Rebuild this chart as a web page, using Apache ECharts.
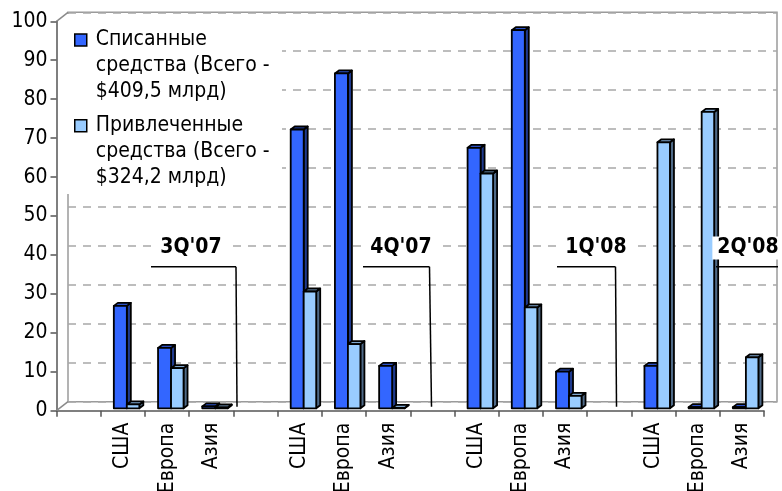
<!DOCTYPE html>
<html>
<head>
<meta charset="utf-8">
<script src="https://cdn.jsdelivr.net/npm/echarts@6/dist/echarts.min.js"></script>
<style>
  html, body { margin: 0; padding: 0; background: #fff; }
  #chart { width: 782px; height: 491px; }
</style>
</head>
<body>
<div id="chart"></div>
<script>
// Regions grouped by quarter; empty slots separate the quarters.
const categories = ['', 'США', 'Европа', 'Азия',
                    '', 'США', 'Европа', 'Азия',
                    '', 'США', 'Европа', 'Азия',
                    '', 'США', 'Европа', 'Азия'];

// Write-downs, $ bn
const writeDowns = [null, 26.3, 15.5, 0.5,
                    null, 71.6, 86.0, 10.9,
                    null, 66.9, 97.1, 9.4,
                    null, 10.9, 0.3, 0.3];

// Capital raised, $ bn
const capitalRaised = [null, 1.0, 10.3, 0.2,
                       null, 30.0, 16.5, 0.1,
                       null, 60.3, 25.9, 3.2,
                       null, 68.3, 76.1, 13.1];

const seriesNames = ['Списанные\nсредства (Всего -\n$409,5 млрд)',
                     'Привлеченные\nсредства (Всего -\n$324,2 млрд)'];

const quarterLabels = ["3Q'07", "4Q'07", "1Q'08", "2Q'08"];

const yTicks = { min: 0, max: 100, interval: 10 };

// ---- layout ----
const W = 782, H = 491;
const FONT = 'DejaVu Sans Condensed';
const FS = 21;
const front = { left: 56.5, right: 764, top: 21.3, bottom: 410.7 };
const DX = 11.5, DY = -9;          // depth of the back wall
const BAR_DY = -2.4;               // bars sit slightly behind the front plane
const SIDE_DX = 4, SIDE_DY = -3;   // visible bar depth

const palette = [
  { front: '#3366FF', top: '#2B50C6', side: '#1F3A8E' },
  { front: '#99CCFF', top: '#7FA6CE', side: '#4F6A88' }
];

function barRenderer(kind) {
  const x0off = kind === 0 ? -9 : 4;
  const x1off = kind === 0 ? 4 : 16.5;
  const col = palette[kind];
  return function (params, api) {
    const idx = api.value(0);
    const val = api.value(1);
    const base = api.coord([idx, 0]);
    const top = api.coord([idx, val]);
    const cx = base[0];
    const x0 = cx + x0off, x1 = cx + x1off;
    const yb = base[1] + BAR_DY, yt = top[1] + BAR_DY;
    const stroke = { stroke: '#000', lineWidth: 1.8, lineJoin: 'round' };
    return {
      type: 'group',
      children: [
        { type: 'polygon', shape: { points: [[x1, yt], [x1 + SIDE_DX, yt + SIDE_DY], [x1 + SIDE_DX, yb + SIDE_DY], [x1, yb]] },
          style: Object.assign({ fill: col.side }, stroke) },
        { type: 'polygon', shape: { points: [[x0, yt], [x1, yt], [x1 + SIDE_DX, yt + SIDE_DY], [x0 + SIDE_DX, yt + SIDE_DY]] },
          style: Object.assign({ fill: col.top }, stroke) },
        { type: 'rect', shape: { x: x0, y: yt, width: x1 - x0, height: yb - yt },
          style: Object.assign({ fill: col.front }, stroke) }
      ]
    };
  };
}

function toData(arr) {
  return arr.map((v, i) => (v == null ? null : [i, v]));
}

// Quarter callouts: label box plus leader line down to the floor
function callout(label, cxText, hx0, hx1, vx1, withDrop) {
  const yH = 266.7, yFloor = 406.7;
  const els = [
    { type: 'text', z: 20, style: { text: label, x: cxText, y: 248, align: 'center', verticalAlign: 'middle',
        font: 'bold ' + FS + 'px "' + FONT + '"', fill: '#000', backgroundColor: '#fff', padding: [1, 5] } },
    { type: 'line', z: 20, shape: { x1: hx0, y1: yH, x2: hx1, y2: yH }, style: { stroke: '#000', lineWidth: 1.5 } }
  ];
  if (withDrop) {
    els.push({ type: 'line', z: 20, shape: { x1: hx1, y1: yH, x2: vx1, y2: yFloor }, style: { stroke: '#000', lineWidth: 1.5 } });
  }
  return els;
}

const frameLine = { stroke: '#8a8a8a', lineWidth: 1.5 };

const option = {
  animation: false,
  backgroundColor: '#fff',
  textStyle: { fontFamily: FONT },
  grid: [
    { left: front.left, right: W - front.right, top: front.top, bottom: H - front.bottom,
      outerBoundsMode: 'none', containLabel: false },
    { left: front.left + DX, right: W - front.right - DX - 1.5, top: front.top + DY, bottom: H - front.bottom - DY,
      outerBoundsMode: 'none', containLabel: false,
      show: true, borderColor: '#9a9a9a', borderWidth: 1.5, backgroundColor: 'transparent' }
  ],
  xAxis: [
    { type: 'category', gridIndex: 0, data: categories, boundaryGap: true,
      axisLine: { lineStyle: { color: '#555', width: 1.5 } },
      axisTick: { show: true, length: 6, lineStyle: { color: '#555', width: 1.5 } },
      axisLabel: { interval: 0, rotate: 90, margin: 12, color: '#000', fontSize: FS, fontFamily: FONT } },
    { type: 'category', gridIndex: 1, data: categories, show: false }
  ],
  yAxis: [
    { type: 'value', gridIndex: 0, min: yTicks.min, max: yTicks.max, interval: yTicks.interval,
      axisLine: { show: true, lineStyle: { color: '#555', width: 1.5 } },
      axisTick: { show: true, length: 6, lineStyle: { color: '#555', width: 1.5 } },
      splitLine: { show: false },
      axisLabel: { margin: 9, color: '#000', fontSize: FS, fontFamily: FONT } },
    { type: 'value', gridIndex: 1, min: yTicks.min, max: yTicks.max, interval: yTicks.interval,
      axisLine: { show: false }, axisTick: { show: false }, axisLabel: { show: false },
      splitLine: { show: true, lineStyle: { color: '#a8a8a8', width: 1.5, type: [8, 7] } } }
  ],
  legend: {
    orient: 'vertical', left: 74, top: -25, padding: 0, itemGap: -44.3,
    itemWidth: 12, itemHeight: 12, icon: 'rect', selectedMode: false,
    data: [
      { name: seriesNames[0], itemStyle: { color: palette[0].front, borderColor: '#000', borderWidth: 1.5 } },
      { name: seriesNames[1], itemStyle: { color: palette[1].front, borderColor: '#000', borderWidth: 1.5 } }
    ],
    // two blank lines on top so the first text line lines up with the swatch
    formatter: name => ' \n \n' + name,
    textStyle: { fontFamily: FONT, fontSize: FS, lineHeight: 26, color: '#000', padding: [0, 0, 0, 4] }
  },
  graphic: [
    // legend panel hides the back wall behind it
    { type: 'rect', z: 1, shape: { x: 60, y: 14, width: 222, height: 180 }, style: { fill: '#fff' } },
    // side wall edges
    { type: 'line', z: 2, shape: { x1: front.left, y1: front.top, x2: front.left + DX, y2: front.top + DY }, style: frameLine },
    { type: 'line', z: 2, shape: { x1: front.left, y1: front.bottom, x2: front.left + DX, y2: front.bottom + DY }, style: frameLine },
    ...callout(quarterLabels[0], 191, 151, 236, 237, true),
    ...callout(quarterLabels[1], 401, 363, 429.5, 431.5, true),
    ...callout(quarterLabels[2], 596, 557, 615.5, 616.5, true),
    ...callout(quarterLabels[3], 748, 716, 778, 778, false)
  ],
  series: [
    { name: seriesNames[0], type: 'custom', xAxisIndex: 0, yAxisIndex: 0, z: 3,
      itemStyle: { color: palette[0].front },
      renderItem: barRenderer(0), encode: { x: 0, y: 1 }, data: toData(writeDowns) },
    { name: seriesNames[1], type: 'custom', xAxisIndex: 0, yAxisIndex: 0, z: 3,
      itemStyle: { color: palette[1].front },
      renderItem: barRenderer(1), encode: { x: 0, y: 1 }, data: toData(capitalRaised) }
  ]
};

const chart = echarts.init(document.getElementById('chart'), null, { renderer: 'canvas' });
chart.setOption(option);
</script>
</body>
</html>
